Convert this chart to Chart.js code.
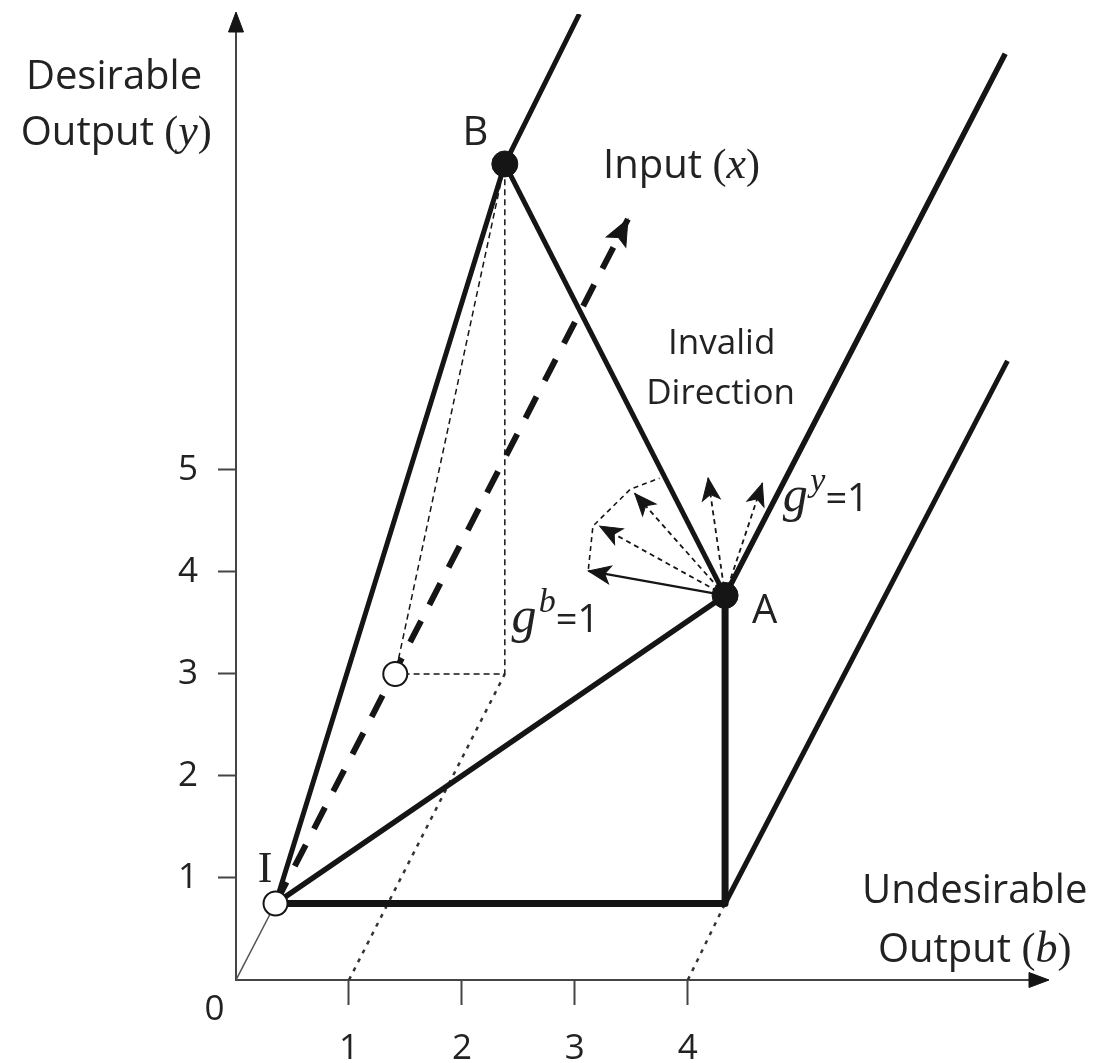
<!DOCTYPE html>
<html>
<head>
<meta charset="utf-8">
<script src="https://cdn.jsdelivr.net/npm/chart.js@4.4.0/dist/chart.umd.min.js"></script>
<style>
  html, body { margin: 0; padding: 0; background: #fff; }
  #wrap { width: 1095px; height: 1063px; }
</style>
</head>
<body>
<div id="wrap"><canvas id="chart" width="1095" height="1063"></canvas></div>
<script>
// axis ticks
var xTicks = [1, 2, 3, 4];
var yTicks = [1, 2, 3, 4, 5];

// key points, as [b, y]
var origin = [0, 0];
var pointI = [0.35, 0.75];
var pointA = [4.33, 3.77];
var pointB = [2.38, 8.0];
var cornerA = [4.33, 0.75];
var midInput = [1.41, 3.0];
var footB = [2.38, 3.0];
var inputTip = [3.47, 7.46];

// far ends of the rays running along the input direction
var rayFromB = [3.04, 9.47];
var rayFromA = [6.81, 9.08];
var rayFromCorner = [6.83, 6.07];

// where the dotted projection lines meet the b axis
var footOne = [1, 0];
var footFour = [4, 0];

// direction arrows leaving A
var fanTips = [[3.12, 4.01], [3.22, 4.45], [3.53, 4.77], [4.18, 4.92], [4.66, 4.87]];
var fanDashed = [false, true, true, true, true];
var fanArc = [[3.12, 4.03], [3.16, 4.45], [3.49, 4.81], [3.75, 4.92]];

var SANS = '"Open Sans", "Noto Sans", sans-serif';
var SERIF = '"Liberation Serif", "DejaVu Serif", serif';
var INK = '#151515';

// text labels, anchored in data units
var notes = [
  { at: [-1.08, 8.73], align: 'center', parts: [{ t: 'Desirable', f: '40px ' + SANS }] },
  { at: [-1.06, 8.19], align: 'center', parts: [{ t: 'Output ', f: '40px ' + SANS }, { t: '(', f: '42px ' + SERIF }, { t: 'y', f: 'italic 44px ' + SERIF }, { t: ')', f: '42px ' + SERIF }] },
  { at: [2.12, 8.19], align: 'center', parts: [{ t: 'B', f: '40px ' + SANS }] },
  { at: [3.25, 7.86], align: 'left', parts: [{ t: 'Input ', f: '40px ' + SANS }, { t: '(', f: '42px ' + SERIF }, { t: 'x', f: 'italic 44px ' + SERIF }, { t: ')', f: '42px ' + SERIF }] },
  { at: [4.30, 6.14], align: 'center', parts: [{ t: 'Invalid', f: '35px ' + SANS }] },
  { at: [4.29, 5.65], align: 'center', parts: [{ t: 'Direction', f: '35px ' + SANS }] },
  { at: [4.84, 4.60], align: 'left', parts: [{ t: 'g', f: 'italic 50px ' + SERIF }, { t: ' ', f: '10px ' + SANS }, { t: 'y', f: 'italic 34px ' + SERIF, dy: -20 }, { t: '=1', f: '38px ' + SANS }] },
  { at: [4.68, 3.50], align: 'center', parts: [{ t: 'A', f: '40px ' + SANS }] },
  { at: [2.44, 3.41], align: 'left', parts: [{ t: 'g', f: 'italic 50px ' + SERIF }, { t: ' ', f: '8px ' + SANS }, { t: 'b', f: 'italic 34px ' + SERIF, dy: -20 }, { t: '=1', f: '38px ' + SANS }] },
  { at: [0.257, 0.96], align: 'center', parts: [{ t: 'I', f: '44px ' + SERIF }] },
  { at: [-0.19, -0.39], align: 'center', parts: [{ t: '0', f: '35px ' + SANS }] },
  { at: [6.54, 0.75], align: 'center', parts: [{ t: 'Undesirable', f: '40px ' + SANS }] },
  { at: [6.54, 0.18], align: 'center', parts: [{ t: 'Output ', f: '40px ' + SANS }, { t: '(', f: '42px ' + SERIF }, { t: 'b', f: 'italic 44px ' + SERIF }, { t: ')', f: '42px ' + SERIF }] }
];

function pt(p) { return { x: p[0], y: p[1] }; }

function seg(points, style) {
  return Object.assign({
    data: points.map(pt),
    showLine: true,
    pointRadius: 0,
    pointHoverRadius: 0,
    borderColor: INK,
    borderWidth: 5,
    borderJoinStyle: 'round',
    fill: false,
    order: 5
  }, style);
}

var datasets = [
  seg([pointI, pointB, rayFromB], { borderWidth: 5 }),
  seg([pointI, pointA, rayFromA], { borderWidth: 5.5 }),
  seg([pointB, pointA], { borderWidth: 5 }),
  seg([pointA, cornerA, pointI], { borderWidth: 7 }),
  seg([cornerA, rayFromCorner], { borderWidth: 5 }),
  seg([origin, pointI], { borderWidth: 1.5, borderColor: '#555' }),
  seg([pointI, inputTip], { borderWidth: 6, borderDash: [24, 18], arrow: { len: 26, w: 22, notch: 0.8 } }),
  seg([pointB, midInput, footB, pointB], { borderWidth: 1.5, borderDash: [6, 4] }),
  seg([footOne, footB], { borderWidth: 2.5, borderDash: [4, 6], borderColor: '#333' }),
  seg([footFour, cornerA], { borderWidth: 2.5, borderDash: [4, 6], borderColor: '#333' }),
  seg(fanArc, { borderWidth: 1.6, borderDash: [5, 4] })
];

fanTips.forEach(function(tip, i) {
  datasets.push(seg([pointA, tip], {
    borderWidth: fanDashed[i] ? 1.8 : 2.2,
    borderDash: fanDashed[i] ? [5, 4] : [],
    arrow: { len: 22, w: 18, notch: 0.75 }
  }));
});

// filled dots A, B and hollow dots
datasets.push({
  data: [pointB, pointA].map(pt),
  pointRadius: 13,
  pointBackgroundColor: INK,
  pointBorderColor: INK,
  pointBorderWidth: 1,
  order: 0
});
datasets.push({
  data: [pointI, midInput].map(pt),
  pointRadius: 12,
  pointBackgroundColor: '#fff',
  pointBorderColor: INK,
  pointBorderWidth: 2,
  order: 0
});

function arrowHead(ctx, x, y, ang, len, w, notch) {
  ctx.save();
  ctx.translate(x, y);
  ctx.rotate(ang);
  ctx.beginPath();
  ctx.moveTo(0, 0);
  ctx.lineTo(-len, -w / 2);
  ctx.lineTo(-len * notch, 0);
  ctx.lineTo(-len, w / 2);
  ctx.closePath();
  ctx.fillStyle = INK;
  ctx.strokeStyle = INK;
  ctx.lineWidth = 1;
  ctx.lineJoin = 'miter';
  ctx.fill();
  ctx.stroke();
  ctx.restore();
}

function drawRich(ctx, x, y, note) {
  var total = 0;
  note.parts.forEach(function(p) {
    ctx.font = p.f;
    p.w = ctx.measureText(p.t).width;
    total += p.w;
  });
  var cx = note.align === 'center' ? x - total / 2 : x;
  ctx.textAlign = 'left';
  ctx.textBaseline = 'alphabetic';
  note.parts.forEach(function(p) {
    ctx.font = p.f;
    ctx.fillText(p.t, cx, y + (p.dy || 0));
    cx += p.w;
  });
}

var extras = {
  id: 'extras',
  afterDatasetsDraw: function(chart) {
    var ctx = chart.ctx;
    chart.data.datasets.forEach(function(ds, i) {
      if (!ds.arrow) return;
      var pts = chart.getDatasetMeta(i).data;
      var a = pts[pts.length - 2], b = pts[pts.length - 1];
      arrowHead(ctx, b.x, b.y, Math.atan2(b.y - a.y, b.x - a.x), ds.arrow.len, ds.arrow.w, ds.arrow.notch);
    });
  },
  afterDraw: function(chart) {
    var ctx = chart.ctx;
    var area = chart.chartArea;
    var xs = chart.scales.x, ys = chart.scales.y;
    // axis arrowheads
    arrowHead(ctx, area.right + 2, area.bottom, 0, 20, 15, 1);
    arrowHead(ctx, area.left, area.top - 2, -Math.PI / 2, 20, 15, 1);
    ctx.save();
    ctx.fillStyle = '#222';
    notes.forEach(function(n) {
      drawRich(ctx, xs.getPixelForValue(n.at[0]), ys.getPixelForValue(n.at[1]), n);
    });
    ctx.restore();
  }
};

function noPad(scale) {
  scale.paddingTop = 0;
  scale.paddingBottom = 0;
  scale.paddingLeft = 0;
  scale.paddingRight = 0;
}

new Chart(document.getElementById('chart'), {
  type: 'scatter',
  data: { datasets: datasets },
  options: {
    responsive: false,
    animation: false,
    events: [],
    layout: { padding: { left: 0, right: 48, top: 12, bottom: 0 } },
    plugins: { legend: { display: false }, tooltip: { enabled: false } },
    scales: {
      x: {
        type: 'linear',
        min: 0,
        max: 7.18,
        afterBuildTicks: function(scale) { scale.ticks = xTicks.map(function(v) { return { value: v }; }); },
        afterFit: function(scale) { scale.height = 83; noPad(scale); },
        border: { display: true, color: '#444', width: 2 },
        grid: { drawOnChartArea: false, drawTicks: true, tickLength: 25, tickWidth: 2, tickColor: '#444' },
        ticks: { padding: 23, color: '#222', font: { family: 'Open Sans', size: 35 }, maxRotation: 0 }
      },
      y: {
        type: 'linear',
        min: 0,
        max: 9.47,
        afterBuildTicks: function(scale) { scale.ticks = yTicks.map(function(v) { return { value: v }; }); },
        afterFit: function(scale) { scale.width = 236; noPad(scale); },
        border: { display: true, color: '#444', width: 2 },
        grid: { drawOnChartArea: false, drawTicks: true, tickLength: 18, tickWidth: 2, tickColor: '#444' },
        ticks: { padding: 20, color: '#222', font: { family: 'Open Sans', size: 35 } }
      }
    }
  },
  plugins: [extras]
});
</script>
</body>
</html>
